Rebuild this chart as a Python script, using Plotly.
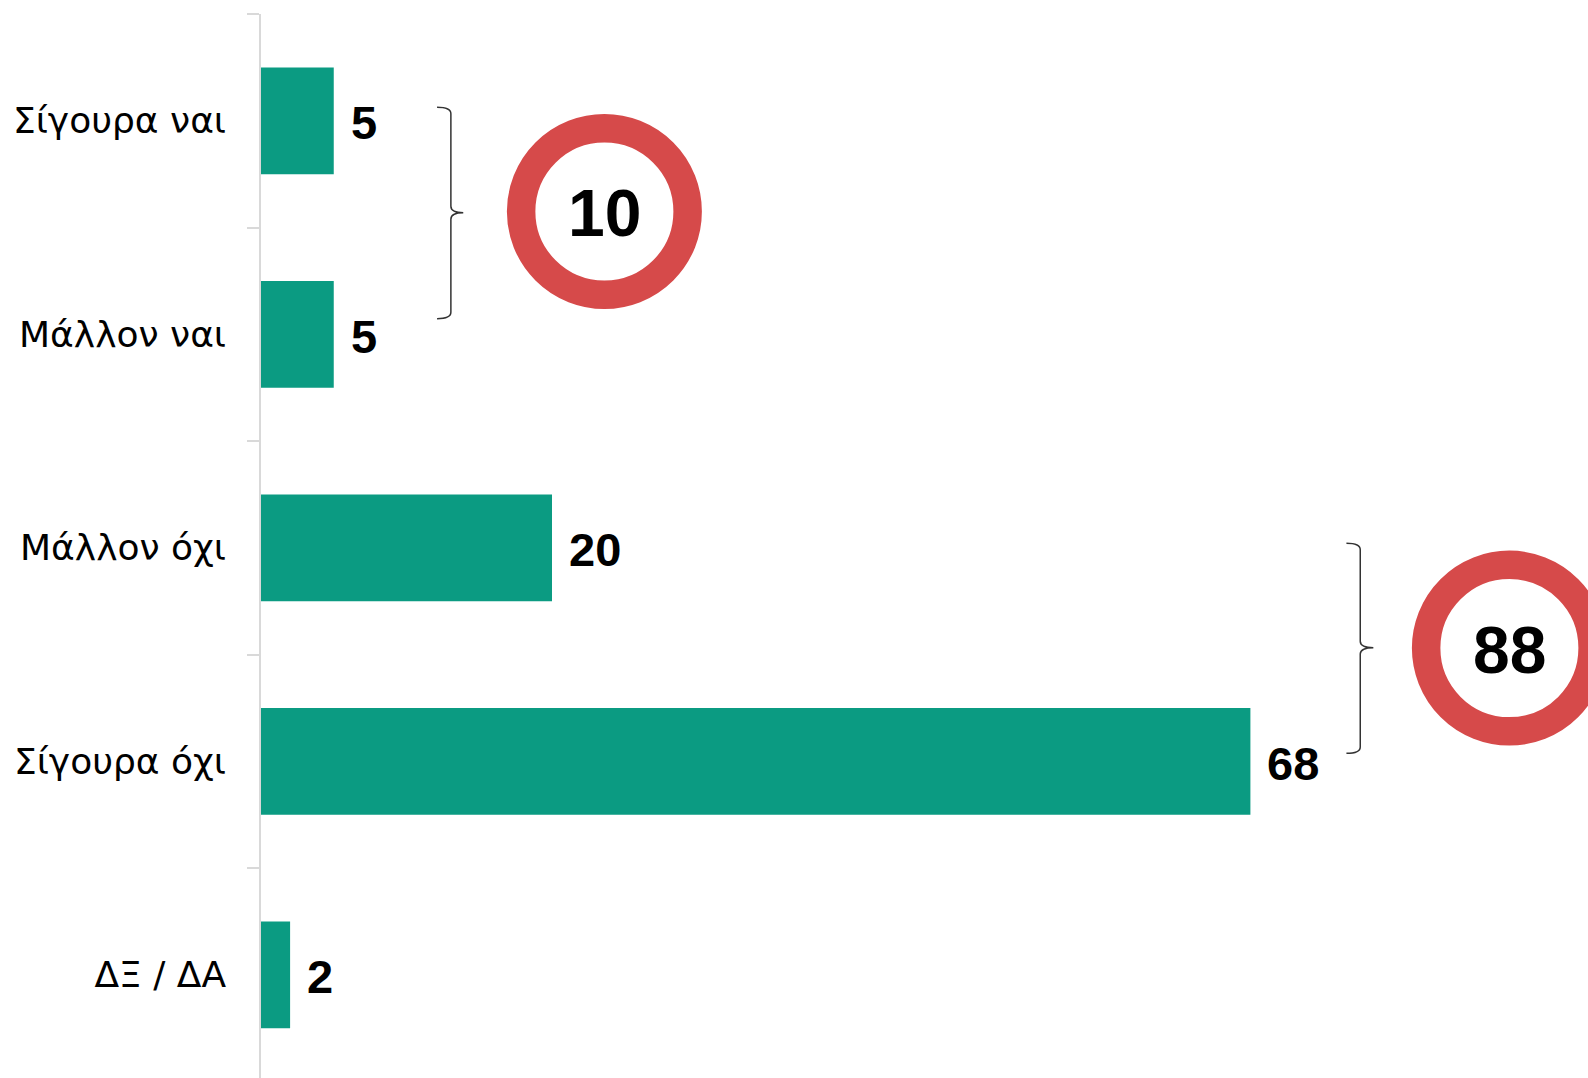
import plotly.graph_objects as go

# ---- data ----
categories = ["Σίγουρα ναι", "Μάλλον ναι", "Μάλλον όχι", "Σίγουρα όχι", "ΔΞ / ΔΑ"]
values = [5, 5, 20, 68, 2]
group_labels = ["10", "88"]
group_members = [[0, 1], [2, 3]]

# ---- styling / layout constants ----
BAR_COLOR = "#0B9B82"
RING_COLOR = "#D64A4A"
AXIS_COLOR = "#D9D9D9"
BRACKET_COLOR = "#333333"
W, H = 1588, 1078
ML, MT = 261, 14
PX_PER_UNIT = 14.55
BAND_PX = 213.5

x_max = (W - ML) / PX_PER_UNIT
y_bottom = -0.5 + (H - MT) / BAND_PX

fig = go.Figure()
fig.add_trace(go.Bar(
    x=values, y=categories, orientation="h",
    marker=dict(color=BAR_COLOR, line=dict(width=0)),
    width=0.5, hoverinfo="skip",
))

# value labels
for c, v in zip(categories, values):
    fig.add_annotation(
        x=v, y=c, text=f"<b>{v}</b>", showarrow=False,
        xanchor="left", yanchor="middle", xshift=15, yshift=-2,
        font=dict(family="Liberation Sans", size=47, color="#000000"),
    )

# group rings + brackets (positions in axis units)
ring_pos = [(23.6, 0.425), (85.8, 2.47)]
bracket_x = [(12.1, 13.05, 13.9), (74.6, 75.55, 76.45)]
bracket_y = [(-0.063, 0.431, 0.927), (1.979, 2.468, 2.963)]

for lab, (cx, cy), (xh, xv, xn), (yt, ym, yb) in zip(group_labels, ring_pos, bracket_x, bracket_y):
    r = 83.25
    fig.add_shape(
        type="circle", xref="x", yref="y", xsizemode="pixel", ysizemode="pixel",
        xanchor=cx, yanchor=cy, x0=-r, x1=r, y0=-r, y1=r,
        line=dict(color=RING_COLOR, width=28.5), fillcolor="white", layer="above",
    )
    fig.add_annotation(
        x=cx, y=cy, xref="x", yref="y", text=f"<b>{lab}</b>", showarrow=False,
        xanchor="center", yanchor="middle", yshift=-2,
        font=dict(family="Liberation Sans", size=66, color="#000000"),
    )
    d = 0.03
    path = (f"M {xh},{yt} Q {xv},{yt} {xv},{yt + d} L {xv},{ym - d} "
            f"Q {xv},{ym} {xn},{ym} Q {xv},{ym} {xv},{ym + d} "
            f"L {xv},{yb - d} Q {xv},{yb} {xh},{yb}")
    fig.add_shape(type="path", path=path, xref="x", yref="y",
                  line=dict(color=BRACKET_COLOR, width=1.5))

fig.update_layout(
    width=W, height=H,
    margin=dict(l=ML, r=0, t=MT, b=0, pad=0),
    plot_bgcolor="white", paper_bgcolor="white",
    showlegend=False,
    xaxis=dict(range=[0, x_max], visible=False, fixedrange=True),
    yaxis=dict(
        type="category", categoryorder="array", categoryarray=categories,
        range=[y_bottom, -0.5],
        showline=True, linecolor=AXIS_COLOR, linewidth=1.5,
        ticks="outside", tickson="boundaries", ticklen=12, tickcolor=AXIS_COLOR, tickwidth=1.5,
        tickfont=dict(family="DejaVu Sans", size=36, color="#000000"),
        ticklabelstandoff=26,
        showgrid=False, zeroline=False, fixedrange=True,
    ),
)

fig.write_html("out.html", config={"displayModeBar": False},
               post_script="document.body.style.margin='0';document.body.style.overflow='hidden';")
